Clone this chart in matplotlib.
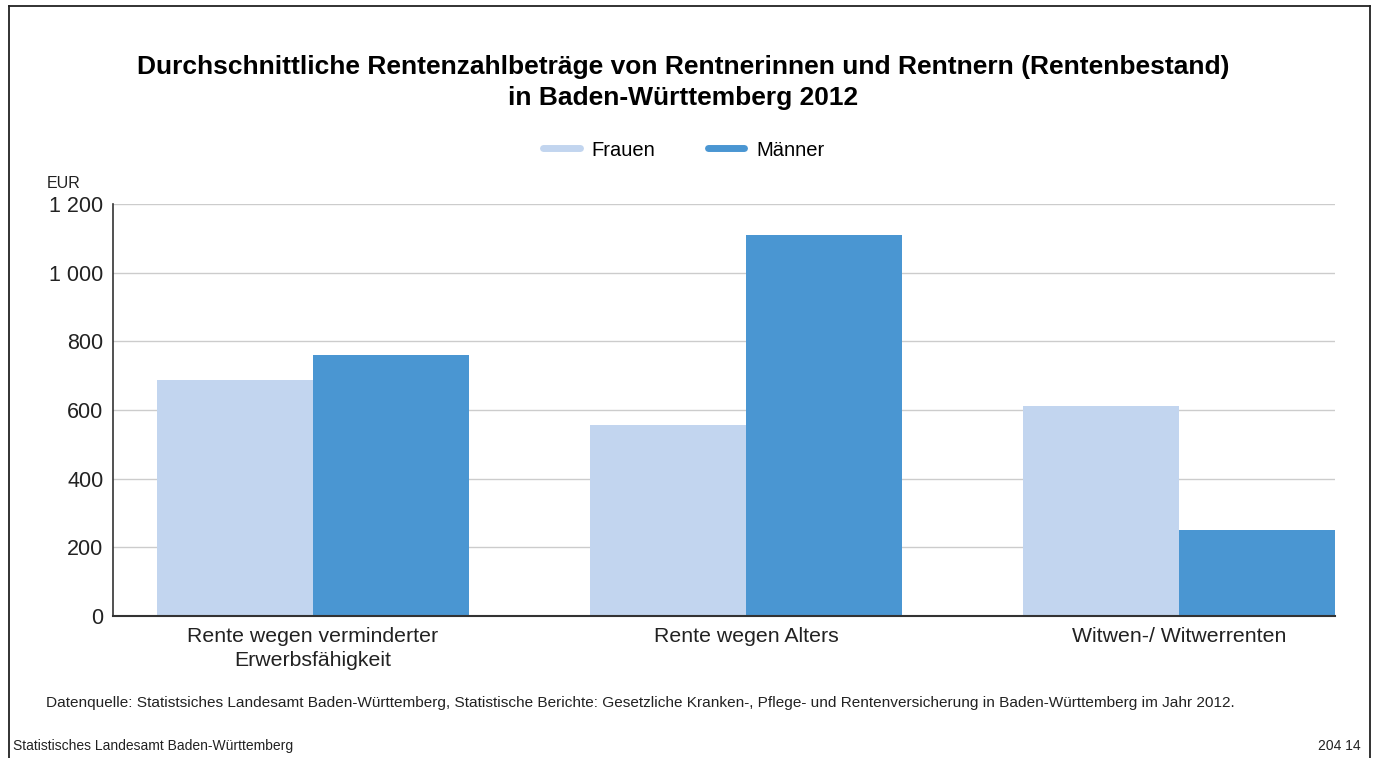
import matplotlib
matplotlib.use("Agg")
import matplotlib.pyplot as plt
import numpy as np
from matplotlib.lines import Line2D

categories = ["Rente wegen verminderter\nErwerbsfähigkeit", "Rente wegen Alters", "Witwen-/ Witwerrenten"]
frauen = [687, 556, 612]
maenner = [760, 1110, 250]
series_names = ["Frauen", "Männer"]
yticks = [0, 200, 400, 600, 800, 1000, 1200]
ytick_labels = ["0", "200", "400", "600", "800", "1 000", "1 200"]

c_f = "#c2d5ef"
c_m = "#4a96d2"

plt.rcParams['font.family'] = ['Liberation Sans', 'DejaVu Sans']

W, H = 1376, 758
fig = plt.figure(figsize=(W / 100, H / 100), dpi=100)

def fx(px): return px / W
def fy(py): return 1 - py / H

ax = fig.add_axes([fx(113), fy(616), fx(1335) - fx(113), fy(204) - fy(616)])
x = np.arange(len(categories))
bw = 0.36
ax.bar(x - bw / 2, frauen, bw, color=c_f, zorder=2)
ax.bar(x + bw / 2, maenner, bw, color=c_m, zorder=2)
ax.set_xlim(-0.462, 2 + 0.36)
ax.set_ylim(0, 1200)
ax.set_yticks(yticks)
ax.set_yticklabels(ytick_labels, fontsize=15.5, color="#222222")
ax.set_xticks(x)
ax.set_xticklabels(categories, fontsize=15.3, color="#222222", linespacing=1.3)
ax.tick_params(axis='x', length=0, pad=8)
ax.tick_params(axis='y', length=0, pad=7)
ax.yaxis.grid(True, color="#cccccc", linewidth=1, zorder=0)
for s in ["top", "right"]:
    ax.spines[s].set_visible(False)
ax.spines["left"].set_color("#333333")
ax.spines["bottom"].set_color("#333333")
ax.spines["left"].set_linewidth(1.2)
ax.spines["bottom"].set_linewidth(1.5)
ax.spines["bottom"].set_zorder(3)

fig.text(fx(47), fy(184), "EUR", fontsize=11.5, color="#222222", va="center", ha="left")

fig.text(0.5 * (fx(135) + fx(1232)), fy(67), "Durchschnittliche Rentenzahlbeträge von Rentnerinnen und Rentnern (Rentenbestand)",
         fontsize=19, fontweight="bold", ha="center", va="center")
fig.text(0.5 * (fx(135) + fx(1232)), fy(98), "in Baden-Württemberg 2012",
         fontsize=19, fontweight="bold", ha="center", va="center")

handles = [Line2D([0], [0], color=c_f, lw=5, solid_capstyle="round"),
           Line2D([0], [0], color=c_m, lw=5, solid_capstyle="round")]
fig.legend(handles, series_names, loc="center", bbox_to_anchor=(fx(684), fy(150)), ncol=2,
           frameon=False, fontsize=14.5, handlelength=1.8, columnspacing=2.6, handletextpad=0.6)

fig.text(fx(46), fy(703), "Datenquelle: Statistsiches Landesamt Baden-Württemberg, Statistische Berichte: Gesetzliche Kranken-, Pflege- und Rentenversicherung in Baden-Württemberg im Jahr 2012.",
         fontsize=11.05, color="#222222", ha="left", va="center")
fig.text(fx(13), fy(746), "Statistisches Landesamt Baden-Württemberg", fontsize=10, color="#222222", ha="left", va="center")
fig.text(fx(1361), fy(746), "204 14", fontsize=10, color="#222222", ha="right", va="center")

# frame border
fig.add_artist(Line2D([fx(9), fx(9)], [fy(758), fy(6)], color="#222222", lw=1.3))
fig.add_artist(Line2D([fx(9), fx(1370)], [fy(6), fy(6)], color="#222222", lw=1.3))
fig.add_artist(Line2D([fx(1370), fx(1370)], [fy(6), fy(758)], color="#222222", lw=1.3))

fig.savefig("out.png", dpi=100, facecolor="white")
